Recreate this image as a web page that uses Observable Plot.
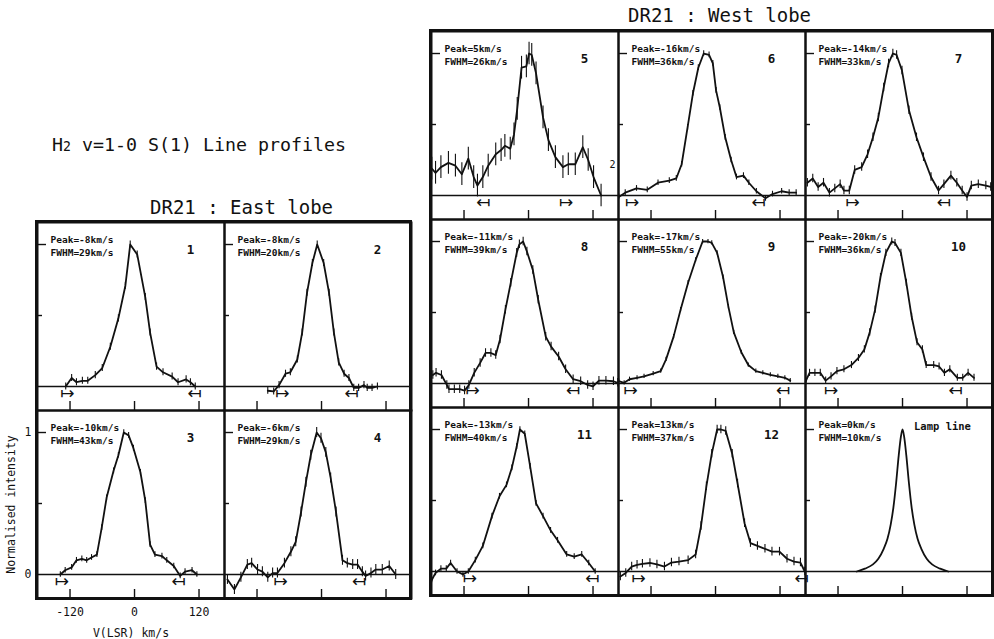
<!DOCTYPE html>
<html><head><meta charset="utf-8">
<script src="https://cdn.jsdelivr.net/npm/d3@7"></script>
<script src="https://cdn.jsdelivr.net/npm/@observablehq/plot@0.6"></script>
<style>
body{margin:0;background:#fff;}
#fig{position:relative;width:994px;height:639px;overflow:hidden;background:#fff;font-family:"DejaVu Sans Mono",monospace;color:#111;}
.t{position:absolute;white-space:nowrap;line-height:1;}
.box{position:absolute;border:3px solid #111;box-sizing:border-box;pointer-events:none;}
#fig svg{position:absolute;}
</style></head><body><div id="fig"></div>
<script>
// ---------- data (velocity km/s, normalised intensity) ----------
const panelIds = ["1","2","3","4","5","6","7","8","9","10","11","12","Lamp line"];
const peakLabels = ["-8","-8","-10","-6","5","-16","-14","-11","-17","-20","-13","13","0"];
const fwhmLabels = ["29","20","43","29","26","36","33","39","55","36","40","37","10"];
const errHalf = [0.025,0.025,0.02,0.035,0.08,0.02,0.03,0.03,0.015,0.025,0.02,0.03,0];
const rightArrowV = [-125,-73,-135,-76,70,-155,-93,-104,-158,-133,-109,-143,null];
const leftArrowV  = [112,56,82,70,-84,80,77,83,126,99,119,160,null];
const xTicks = [-120,0,120];
const yTicksLong = [1];
const yTicksShort = [0.5];
const panel5Note = "2";

const v1 = [-128,-117,-108,-97,-87,-73,-60,-45,-30,-17,-8,5,20,29,41,53,70,81,96,104,113];
const i1 = [0,0.06,0.03,0.04,0.04,0.08,0.13,0.28,0.48,0.71,1.0,0.93,0.63,0.38,0.14,0.10,0.07,0.03,0.05,0.03,0];
const v2 = [-100,-89,-79,-67,-58,-45,-36,-27,-17,-8,4,14,23,32,42,51,60,69,79,85,94,104];
const i2 = [-0.03,-0.035,0.01,0.09,0.10,0.19,0.38,0.66,0.87,1.0,0.87,0.66,0.38,0.17,0.09,0.06,-0.01,-0.01,0.01,-0.01,-0.01,0];
const v3 = [-138,-129,-117,-108,-98,-89,-80,-70,-61,-52,-39,-30,-20,-11,-2,11,20,29,38,51,60,73,85,94,107,116];
const i3 = [0,0.03,0.05,0.10,0.11,0.10,0.12,0.14,0.33,0.54,0.73,0.84,1.0,0.98,0.89,0.72,0.52,0.21,0.14,0.13,0.10,0.06,-0.01,0.02,0.03,0];
const v4 = [-175,-162,-150,-138,-130,-119,-110,-100,-91,-82,-69,-57,-48,-38,-29,-20,-9,-1,8,17,27,39,48,58,67,76,82,92,101,113,126,138];
const i4 = [-0.035,-0.105,-0.02,0.07,0.08,0.035,0.02,-0.02,0.01,0.01,0.08,0.16,0.23,0.44,0.65,0.84,1.0,0.96,0.86,0.68,0.44,0.10,0.08,0.07,0.07,0.02,-0.01,0.01,0.035,0.035,0.06,0];
const v5 = [-180,-173,-163,-149,-136,-124,-112,-102,-95,-85,-75,-61,-51,-44,-34,-27,-21,-13,-4,1,6,14,27,37,50,64,74,87,101,111,121,135];
const i5 = [0.19,0.16,0.20,0.23,0.21,0.15,0.26,0.13,0.07,0.13,0.21,0.29,0.32,0.35,0.33,0.43,0.61,0.90,0.91,1.0,0.99,0.86,0.55,0.39,0.27,0.20,0.22,0.22,0.34,0.25,0.13,0];
const v6 = [-180,-168,-147,-127,-107,-86,-73,-63,-52,-42,-32,-22,-12,-5,1,8,18,29,39,52,62,76,93,106,123,137,150];
const i6 = [-0.01,0.02,0.05,0.04,0.09,0.105,0.12,0.22,0.48,0.72,0.90,1.0,0.99,0.93,0.74,0.62,0.41,0.25,0.13,0.14,0.09,0.03,-0.02,0.01,0.03,0.02,0.02];
const v7 = [-177,-167,-157,-147,-136,-126,-116,-109,-99,-89,-76,-65,-55,-45,-35,-26,-18,-11,-1,12,26,39,53,67,77,90,101,111,120,128,141,155,164];
const i7 = [0.09,0.12,0.06,0.09,0.02,0.05,0.08,0.035,0.035,0.18,0.20,0.29,0.41,0.55,0.76,0.93,1.0,0.99,0.88,0.60,0.41,0.27,0.13,0.035,0.08,0.14,0.09,0.035,-0.01,0.07,0.08,0.07,0.06];
const v8 = [-178,-172,-162,-152,-148,-138,-128,-119,-111,-101,-90,-80,-70,-61,-53,-43,-33,-22,-17,-10,-3,8,18,32,42,56,69,83,97,110,120,131,144,158,166];
const i8 = [0.06,0.075,0.06,-0.01,-0.04,-0.04,-0.04,-0.05,-0.01,0.075,0.145,0.215,0.215,0.20,0.31,0.52,0.71,0.92,0.98,1.0,0.93,0.80,0.59,0.33,0.26,0.19,0.10,0.03,0.016,-0.01,-0.02,0.02,0.02,0.016,0.005];
const v9 = [-180,-170,-160,-146,-133,-116,-102,-92,-78,-65,-51,-37,-24,-14,-7,3,14,24,34,48,61,75,88,102,116,129,139];
const i9 = [0.016,0.005,0.03,0.04,0.05,0.07,0.087,0.17,0.33,0.52,0.71,0.87,1.0,1.0,0.99,0.92,0.75,0.54,0.36,0.22,0.13,0.087,0.075,0.06,0.05,0.04,0.02];
const v10 = [-180,-173,-163,-153,-143,-133,-122,-109,-95,-82,-71,-61,-51,-41,-31,-20,-14,-3,7,17,27,37,44,58,68,78,88,102,112,122,133];
const i10 = [0.016,0.075,0.075,0.075,0.02,0.05,0.087,0.10,0.13,0.18,0.24,0.36,0.52,0.75,0.92,1.0,0.99,0.92,0.71,0.47,0.29,0.24,0.13,0.13,0.12,0.075,0.10,0.04,0.04,0.075,0.04];
const v11 = [-180,-173,-163,-153,-145,-133,-122,-112,-99,-85,-68,-54,-41,-31,-22,-16,-7,3,14,27,41,54,71,85,99,112,124];
const i11 = [-0.06,-0.01,0.02,0.02,0.06,0,-0.02,0,0.08,0.18,0.39,0.53,0.61,0.73,0.88,1.0,0.97,0.74,0.48,0.39,0.29,0.22,0.12,0.105,0.12,0.06,0];
const v12 = [-177,-167,-156,-146,-136,-122,-109,-95,-82,-68,-51,-37,-27,-17,-7,3,10,19,31,41,54,65,78,92,105,119,133,146,158,166];
const i12 = [-0.035,-0.01,0.035,0.047,0.054,0.06,0.05,0.035,0.063,0.07,0.08,0.12,0.32,0.60,0.83,1.0,1.0,0.99,0.83,0.62,0.34,0.20,0.18,0.16,0.14,0.14,0.09,0.07,0.063,0];
const vLamp = [-85,-70,-55,-45,-35,-28,-22,-17,-12,-7,-3,0,3,7,12,17,22,28,35,45,55,70,85];
const iLamp = [0,0.02,0.05,0.09,0.16,0.23,0.33,0.45,0.62,0.82,0.95,1.0,0.95,0.82,0.62,0.45,0.33,0.23,0.16,0.09,0.05,0.02,0];

const vs = [v1,v2,v3,v4,v5,v6,v7,v8,v9,v10,v11,v12,vLamp];
const is = [i1,i2,i3,i4,i5,i6,i7,i8,i9,i10,i11,i12,iLamp];

// ---------- layout ----------
const ink = "#111";
const W = 187, H = 188;
const xDomain = [-180.5, 167.4];
const yDomain = [-0.169, 1.155];
const fig = document.getElementById("fig");

function makePanel(k, left, top, withAxes) {
  const data = vs[k].map((v, j) => ({v, I: is[k][j]}));
  const e = errHalf[k];
  const ml = withAxes ? 37 : 0, mb = withAxes ? 41 : 0;
  const marks = [
    Plot.ruleY([0], {stroke: ink, strokeWidth: 1.5}),
    Plot.ruleX(xTicks, {stroke: ink, strokeWidth: 1.4, insetTop: H - 9}),
    Plot.ruleY(yTicksLong, {stroke: ink, strokeWidth: 1.4, insetRight: W - 9}),
    Plot.ruleY(yTicksShort, {stroke: ink, strokeWidth: 1.4, insetRight: W - 5}),
  ];
  if (e > 0) marks.push(Plot.ruleX(data, {x: "v", y1: d => d.I - e, y2: d => d.I + e, stroke: ink, strokeWidth: 1.1}));
  marks.push(Plot.line(data, {x: "v", y: "I", stroke: ink, strokeWidth: 1.8, curve: k === 12 ? "monotone-x" : "linear"}));
  const arrowStyle = {x: d => d, frameAnchor: "bottom", dy: -12, fontSize: 17, fontFamily: "DejaVu Sans", fill: ink, textAnchor: "middle"};
  if (rightArrowV[k] != null) marks.push(Plot.text([rightArrowV[k]], {...arrowStyle, text: () => "\u21A6"}));
  if (leftArrowV[k] != null) marks.push(Plot.text([leftArrowV[k]], {...arrowStyle, text: () => "\u21A4"}));
  marks.push(Plot.text([`Peak=${peakLabels[k]}km/s`], {text: d => d, frameAnchor: "top-left", dx: 13, dy: 14, textAnchor: "start", fontWeight: "bold", fontSize: 9.5, fill: ink}));
  marks.push(Plot.text([`FWHM=${fwhmLabels[k]}km/s`], {text: d => d, frameAnchor: "top-left", dx: 13, dy: 27, textAnchor: "start", fontWeight: "bold", fontSize: 9.5, fill: ink}));
  if (k === 12) marks.push(Plot.text([panelIds[k]], {text: d => d, frameAnchor: "top-left", dx: 137, dy: 15, textAnchor: "middle", fontSize: 10.5, fontWeight: "bold", fill: ink}));
  else marks.push(Plot.text([panelIds[k]], {text: d => d, frameAnchor: "top-left", dx: 153, dy: 23, textAnchor: "middle", fontSize: 12.5, fontWeight: "bold", fill: ink}));
  if (k === 4) marks.push(Plot.text([panel5Note], {text: d => d, frameAnchor: "top-left", dx: 181, dy: 129, textAnchor: "middle", fontSize: 10, fill: ink}));
  if (withAxes) {
    marks.push(Plot.axisY({ticks: [0, 1], tickSize: 0, tickPadding: 6, fontSize: 11.5, label: "Normalised intensity", labelAnchor: "center", labelOffset: 31, labelArrow: false, tickFormat: d => String(d)}));
    marks.push(Plot.axisX({ticks: xTicks, tickSize: 0, tickPadding: 9, fontSize: 11.5, label: "V(LSR) km/s", labelAnchor: "center", labelOffset: 38, labelArrow: false, tickFormat: d => String(d)}));
  }
  marks.push(Plot.frame({stroke: ink, strokeWidth: 2}));
  const svg = Plot.plot({
    width: W + ml, height: H + mb,
    marginLeft: ml, marginBottom: mb, marginTop: 0, marginRight: 0,
    x: {domain: xDomain, axis: withAxes ? undefined : null},
    y: {domain: yDomain, axis: withAxes ? undefined : null},
    style: {fontFamily: "DejaVu Sans Mono", fontSize: "9.5px", background: "transparent", overflow: "visible", color: ink},
    marks
  });
  svg.style.left = (left - ml) + "px";
  svg.style.top = top + "px";
  fig.append(svg);
}

// East lobe: panels 1-4 (2x2)
for (let k = 0; k < 4; k++) {
  const col = k % 2, row = Math.floor(k / 2);
  makePanel(k, 37 + col * W, 222 + row * H, k === 2);
}
// West lobe: panels 5-12 + lamp (3x3)
for (let k = 4; k < 13; k++) {
  const j = k - 4, col = j % 3, row = Math.floor(j / 3);
  makePanel(k, 431 + col * W, 31 + row * H, false);
}

function addText(html, left, top, size) {
  const d = document.createElement("div");
  d.className = "t"; d.innerHTML = html;
  d.style.left = left + "px"; d.style.top = top + "px"; d.style.fontSize = size + "px";
  fig.append(d);
}
function addBox(left, top, w, h) {
  const d = document.createElement("div");
  d.className = "box";
  Object.assign(d.style, {left: left + "px", top: top + "px", width: w + "px", height: h + "px"});
  fig.append(d);
}
addBox(35, 220, 377, 380);
addBox(429, 29, 565, 568);
addText('H<span style="font-size:0.72em">2</span> v=1-0 S(1) Line profiles', 52, 136, 18.3);
addText('DR21 : East lobe', 150, 198, 19);
addText('DR21 : West lobe', 628, 6, 19);
</script></body></html>
